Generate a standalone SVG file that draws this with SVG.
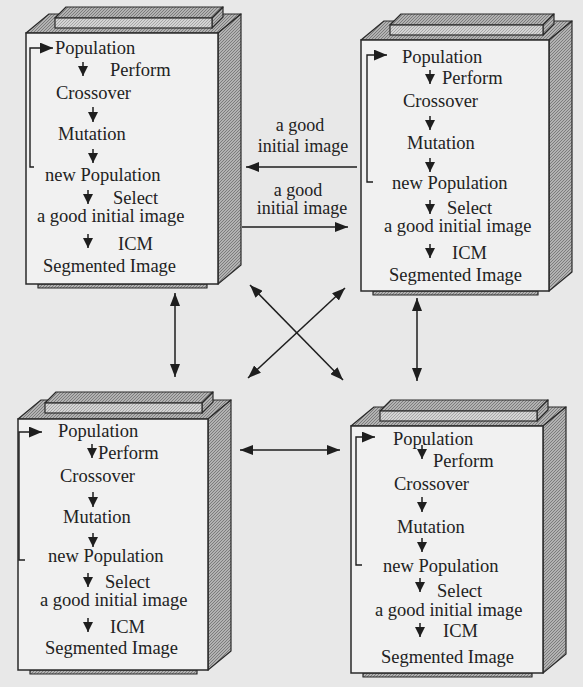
<svg xmlns="http://www.w3.org/2000/svg" width="583" height="687" viewBox="0 0 583 687">
<defs>
<pattern id="hatch" patternUnits="userSpaceOnUse" width="3" height="3">
<rect width="3" height="3" fill="#b2b2b2"/>
<path d="M0,3 L3,0" stroke="#7c7c7c" stroke-width="1"/>
</pattern>
<pattern id="hatchL" patternUnits="userSpaceOnUse" width="3" height="3">
<rect width="3" height="3" fill="#d4d4d4"/>
<path d="M0,3 L3,0" stroke="#a6a6a6" stroke-width="1"/>
</pattern>
<marker id="sm" viewBox="0 0 10 10" refX="10" refY="5" markerWidth="10" markerHeight="10" markerUnits="userSpaceOnUse" orient="auto">
<path d="M0,0 L10,5 L0,10 z" fill="#1e1e1e"/>
</marker>
<marker id="br" viewBox="0 0 12 10" refX="12" refY="5" markerWidth="13" markerHeight="11" markerUnits="userSpaceOnUse" orient="auto">
<path d="M0,0 L12,5 L0,10 z" fill="#1e1e1e"/>
</marker>
<marker id="big" viewBox="0 0 13 10" refX="13" refY="5" markerWidth="13" markerHeight="10" markerUnits="userSpaceOnUse" orient="auto-start-reverse">
<path d="M0,0 L13,5 L0,10 z" fill="#1e1e1e"/>
</marker>
</defs>
<style>
text{font-family:"Liberation Serif","Times New Roman",serif;font-size:18.5px;fill:#222}
.lab{text-anchor:middle;font-size:18px}
.front{fill:#f1f1f1;stroke:#2a2a2a;stroke-width:1.5}
.side{fill:url(#hatch);stroke:#2a2a2a;stroke-width:1.2;stroke-linejoin:round}
.slab{fill:url(#hatchL);stroke:#2a2a2a;stroke-width:1.2}
.ia{stroke:#1e1e1e;stroke-width:1.5;fill:none;marker-end:url(#sm)}
.bk{stroke:#1e1e1e;stroke-width:1.4;fill:none;marker-end:url(#br)}
.c{stroke:#1e1e1e;stroke-width:1.5;fill:none;marker-end:url(#big)}
.cd{stroke:#1e1e1e;stroke-width:1.5;fill:none;marker-start:url(#big);marker-end:url(#big)}
</style>
<rect width="583" height="687" fill="#e8e8e8"/>

<g id="box1">
<polygon class="side" points="26,33 49,14 241,14 218,33"/>
<polygon class="side" points="218,33 241,14 241,265 218,284"/>
<polygon class="side" points="55,18 66,7 223,7 212,18"/>
<polygon class="side" points="212,18 223,7 223,17 212,28"/>
<rect class="slab" x="55" y="18" width="157" height="10"/>
<rect class="side" x="38" y="284" width="169" height="4"/>
<rect class="front" x="26" y="33" width="192" height="251"/>
<path class="bk" d="M34,167 H30 V48 H53"/>
<path class="ia" d="M83,62 V76"/>
<path class="ia" d="M93,107 V122"/>
<path class="ia" d="M93,149 V163"/>
<path class="ia" d="M88,190 V204"/>
<path class="ia" d="M88,234 V248"/>
<text x="55" y="54">Population</text>
<text x="110" y="76">Perform</text>
<text x="56" y="99">Crossover</text>
<text x="58" y="140">Mutation</text>
<text x="45" y="181">new Population</text>
<text x="113" y="204">Select</text>
<text x="37" y="222">a good initial image</text>
<text x="118" y="250">ICM</text>
<text x="43" y="272">Segmented Image</text>
</g>

<g id="box2">
<polygon class="side" points="361,40 384,21 572,21 549,40"/>
<polygon class="side" points="549,40 572,21 572,272 549,291"/>
<polygon class="side" points="390,25 401,14 554,14 543,25"/>
<polygon class="side" points="543,25 554,14 554,24 543,35"/>
<rect class="slab" x="390" y="25" width="153" height="10"/>
<rect class="side" x="373" y="291" width="165" height="4"/>
<rect class="front" x="361" y="40" width="188" height="251"/>
<path class="bk" d="M373,182 H367 V55 H387"/>
<path class="ia" d="M430,70 V84"/>
<path class="ia" d="M430,116 V130"/>
<path class="ia" d="M430,158 V172"/>
<path class="ia" d="M430,200 V214"/>
<path class="ia" d="M430,244 V258"/>
<text x="402" y="63">Population</text>
<text x="442" y="84">Perform</text>
<text x="403" y="107">Crossover</text>
<text x="407" y="149">Mutation</text>
<text x="392" y="189">new Population</text>
<text x="447" y="214">Select</text>
<text x="384" y="232">a good initial image</text>
<text x="452" y="259">ICM</text>
<text x="389" y="281">Segmented Image</text>
</g>

<g id="box3">
<polygon class="side" points="18,419 41,400 231,400 208,419"/>
<polygon class="side" points="208,419 231,400 231,651 208,670"/>
<polygon class="side" points="45,403 56,392 213,392 202,403"/>
<polygon class="side" points="202,403 213,392 213,402 202,413"/>
<rect class="slab" x="45" y="403" width="157" height="10"/>
<rect class="side" x="30" y="670" width="167" height="4"/>
<rect class="front" x="18" y="419" width="190" height="251"/>
<path class="bk" d="M25,560 H19 V432 H42"/>
<path class="ia" d="M92,444 V458"/>
<path class="ia" d="M93,492 V507"/>
<path class="ia" d="M93,533 V547"/>
<path class="ia" d="M88,573 V587"/>
<path class="ia" d="M88,618 V632"/>
<text x="58" y="437">Population</text>
<text x="98" y="459">Perform</text>
<text x="60" y="482">Crossover</text>
<text x="63" y="523">Mutation</text>
<text x="48" y="562">new Population</text>
<text x="105" y="588">Select</text>
<text x="40" y="606">a good initial image</text>
<text x="110" y="633">ICM</text>
<text x="45" y="654">Segmented Image</text>
</g>

<g id="box4">
<polygon class="side" points="351,426 374,407 566,407 543,426"/>
<polygon class="side" points="543,426 566,407 566,654 543,673"/>
<polygon class="side" points="380,411 391,400 548,400 537,411"/>
<polygon class="side" points="537,411 548,400 548,410 537,421"/>
<rect class="slab" x="380" y="411" width="157" height="10"/>
<rect class="side" x="363" y="673" width="169" height="4"/>
<rect class="front" x="351" y="426" width="192" height="247"/>
<path class="bk" d="M362,565 H356 V437 H375"/>
<path class="ia" d="M422,445 V459"/>
<path class="ia" d="M422,497 V512"/>
<path class="ia" d="M422,538 V552"/>
<path class="ia" d="M420,578 V592"/>
<path class="ia" d="M420,623 V637"/>
<text x="393" y="445">Population</text>
<text x="433" y="467">Perform</text>
<text x="394" y="490">Crossover</text>
<text x="397" y="533">Mutation</text>
<text x="383" y="572">new Population</text>
<text x="437" y="597">Select</text>
<text x="375" y="616">a good initial image</text>
<text x="443" y="637">ICM</text>
<text x="381" y="663">Segmented Image</text>
</g>

<g id="connectors">
<path class="c" d="M357,167 H246"/>
<path class="c" d="M242,227 H348"/>
<path class="cd" d="M175,293 V377"/>
<path class="cd" d="M417,298 V381"/>
<path class="cd" d="M250,285 L343,380"/>
<path class="cd" d="M345,288 L248,378"/>
<path class="cd" d="M240,450 H340"/>
<text class="lab" x="300" y="131">a good</text>
<text class="lab" x="303" y="152">initial image</text>
<text class="lab" x="298" y="196">a good</text>
<text class="lab" x="302" y="214">initial image</text>
</g>
</svg>
